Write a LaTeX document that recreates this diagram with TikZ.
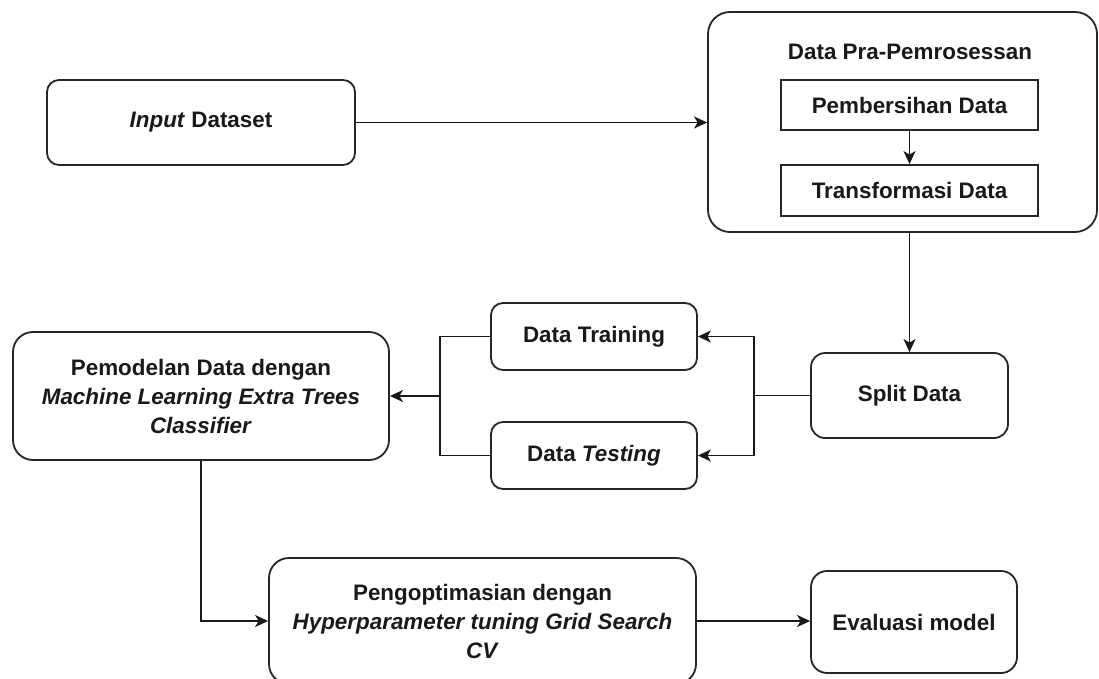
\documentclass[tikz,border=0pt]{standalone}
\usepackage{fontspec}
\setmainfont{Liberation Sans}
\usetikzlibrary{arrows.meta,positioning}
\begin{document}
\begin{tikzpicture}[x=1pt,y=-1pt,
  every node/.style={font=\fontsize{22.4}{29}\selectfont\bfseries, text=black!90, align=center, inner sep=0pt},
  rbox/.style={draw=black!85, line width=1.8pt, rounded corners=#1, fill=white},
  rbox/.default=12pt,
  sbox/.style={draw=black!85, line width=1.8pt, fill=white},
  link/.style={draw=black!90, line width=1.7pt},
  arr/.style={link, -{Stealth[length=13pt,width=12pt,inset=3.5pt]}}
]
\useasboundingbox (0,0) rectangle (1099,679);

\node[rbox=12pt, minimum width=308pt, minimum height=85pt] (inp) at (201,122.5) {\textit{Input} Dataset};
\node[rbox=22pt, minimum width=389pt, minimum height=220pt] (pre) at (902.5,122) {};
\node (ttl) at (910,52) {Data Pra-Pemrosessan};
\node[sbox, minimum width=257pt, minimum height=50pt] (cln) at (909.5,105) {Pembersihan Data};
\node[sbox, minimum width=257pt, minimum height=51pt] (trf) at (909.5,190.5) {Transformasi Data};

\node[rbox=14pt, minimum width=197pt, minimum height=85pt] (spl) at (909.5,395.5) {Split Data};
\node[rbox=12pt, minimum width=206pt, minimum height=67pt] (trn) at (594,336.5) {Data Training};
\node[rbox=12pt, minimum width=206pt, minimum height=67pt] (tst) at (594,455.5) {Data \textit{Testing}};
\node[rbox=20pt, minimum width=376pt, minimum height=128pt] (mdl) at (201,396) {Pemodelan Data dengan\\\textit{Machine Learning Extra Trees}\\\textit{Classifier}};
\node[rbox=20pt, minimum width=427pt, minimum height=126pt] (opt) at (482.5,621) {Pengoptimasian dengan\\\textit{Hyperparameter tuning Grid Search}\\\textit{CV}};
\node[rbox=16pt, minimum width=206pt, minimum height=102pt] (evl) at (914,622) {Evaluasi model};

\coordinate (jr) at (754,395.5);
\coordinate (jl) at (440,396);

\draw[arr] (inp.east) -- (inp.east -| pre.west);
\draw[arr] (cln.south) -- (trf.north);
\draw[arr] (spl.north |- pre.south) -- (spl.north);
\draw[link] (spl.west) -- (jr);
\draw[arr] (jr) |- (trn.east);
\draw[arr] (jr) |- (tst.east);
\draw[link] (trn.west) -| (jl) |- (tst.west);
\draw[arr] (jl) -- (jl -| mdl.east);
\draw[arr] (mdl.south) |- (opt.west);
\draw[arr] (opt.east) -- (opt.east -| evl.west);
\end{tikzpicture}
\end{document}
